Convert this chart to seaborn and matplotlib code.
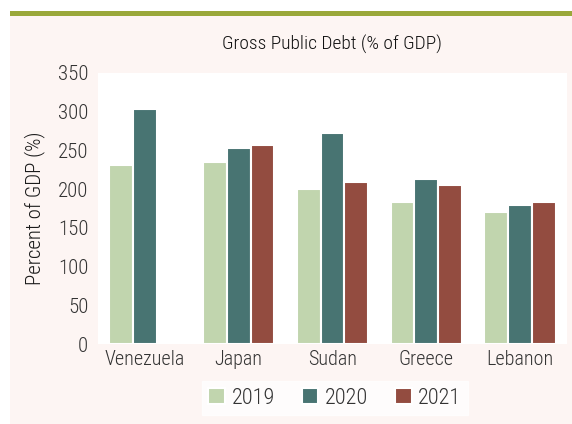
import matplotlib
matplotlib.use("Agg")
import matplotlib.pyplot as plt
from matplotlib import font_manager
import numpy as np
import pandas as pd
import seaborn as sns

countries = ["Venezuela", "Japan", "Sudan", "Greece", "Lebanon"]
years = ["2019", "2020", "2021"]
debt_2019 = [231, 235, 200, 183, 170]
debt_2020 = [304, 253, 273, 213, 180]
debt_2021 = [np.nan, 257, 209, 205, 183]

colors = ["#c1d5ae", "#487472", "#934c40"]

rows = []
for yr, vals in zip(years, [debt_2019, debt_2020, debt_2021]):
    for c, v in zip(countries, vals):
        rows.append({"country": c, "year": yr, "debt": v})
df = pd.DataFrame(rows)

sns.set_theme(style="white")
available = {f.name for f in font_manager.fontManager.ttflist}
family = [f for f in ["Roboto Condensed", "Liberation Sans Narrow", "Liberation Sans"] if f in available]
plt.rcParams["font.family"] = family + ["DejaVu Sans"]
plt.rcParams["font.weight"] = "light"
plt.rcParams["axes.labelweight"] = "light"

fig = plt.figure(figsize=(5.72, 4.24), dpi=100)
fig.patch.set_facecolor("white")

# background panel with olive accent rule on top
bg = fig.add_axes([0, 0, 1, 1], zorder=-1)
bg.set_xlim(0, 572)
bg.set_ylim(424, 0)
bg.axis("off")
bg.add_patch(plt.Rectangle((10, 16), 562, 408, facecolor="#fdf5f3", edgecolor="none"))
bg.add_patch(plt.Rectangle((10, 11), 562, 5, facecolor="#9aa83a", edgecolor="none"))

ax = fig.add_axes([98 / 572, 80 / 424, 469 / 572, 271 / 424], zorder=1)
ax.set_facecolor("white")

sns.barplot(data=df, x="country", y="debt", hue="year", order=countries,
            hue_order=years, palette=colors, width=0.76, ax=ax,
            edgecolor="white", linewidth=1.5, saturation=1, errorbar=None)

ax.set_ylim(0, 350)
ax.set_xlim(-0.5, 4.5)
ax.set_yticks(range(0, 351, 50))
for s in ax.spines.values():
    s.set_visible(False)
ax.tick_params(axis="y", length=0, labelsize=15, colors="#333333", pad=7)
ax.tick_params(axis="x", length=0, labelsize=14.5, colors="#333333", pad=4)
ax.set_xlabel("")
ax.set_ylabel("Percent of GDP (%)", fontsize=15, color="#1a1a1a", labelpad=9,
              fontweight="light")

fig.text(332 / 572, 1 - 44 / 424, "Gross Public Debt (% of GDP)", ha="center",
         va="center", fontsize=14, color="#111111")

leg = ax.legend(loc="center", bbox_to_anchor=(335 / 572, 26 / 424),
                bbox_transform=fig.transFigure, ncol=3, frameon=True,
                fontsize=16, handlelength=0.75, handleheight=0.75,
                columnspacing=1.2, handletextpad=0.3, borderpad=0.3,
                borderaxespad=0, fancybox=False)
leg.get_frame().set_edgecolor("white")
leg.get_frame().set_facecolor("white")
for t in leg.get_texts():
    t.set_color("#333333")

fig.savefig("out.png", dpi=100, facecolor=fig.get_facecolor())
